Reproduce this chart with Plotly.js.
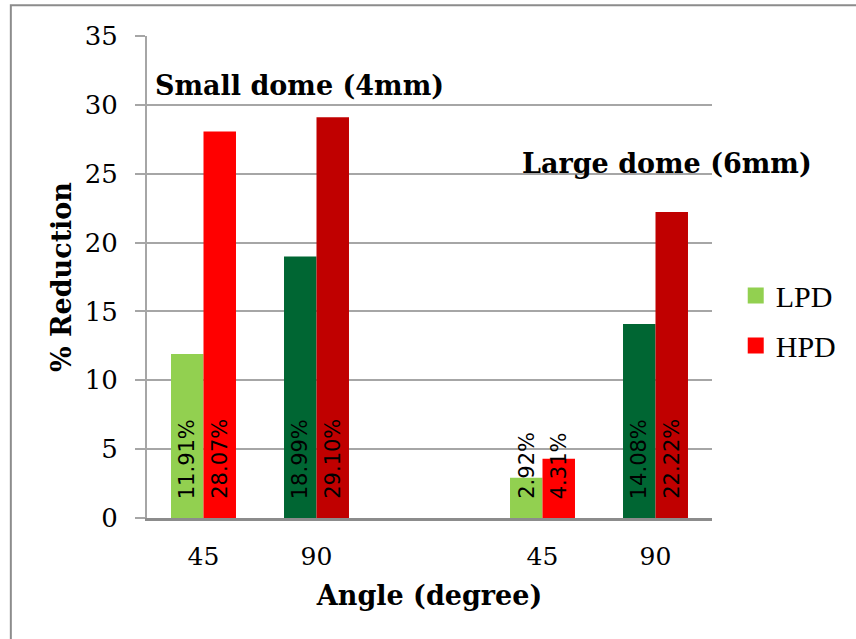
<!DOCTYPE html>
<html>
<head>
<meta charset="utf-8">
<script src="https://cdn.plot.ly/plotly-3.0.1.min.js"></script>
<style>html,body{margin:0;padding:0;background:#fff}</style>
</head>
<body>
<div id="chart" style="width:856px;height:639px"></div>
<script>
// Bar slots: small dome (4mm) at 45/90 degrees, then large dome (6mm)
const barKeys = ['S45', 'S90', 'L45', 'L90'];
const slotOrder = ['S45', 'S90', 'gap', 'L45', 'L90'];
const angleLabels = ['45', '90', '45', '90'];

// % reduction per pressure level
const lpdValues = [11.91, 18.99, 2.92, 14.08];
const hpdValues = [28.07, 29.10, 4.31, 22.22];

const lpdColors = ['#92D050', '#006633', '#92D050', '#006633'];
const hpdColors = ['#FF0000', '#C00000', '#FF0000', '#C00000'];

const serif = 'DejaVu Serif, serif';
const labelFont = {family: 'DejaVu Sans, sans-serif', size: 21, color: '#000'};

const traces = [
  {type: 'bar', name: 'LPD', x: barKeys, y: lpdValues,
   marker: {color: lpdColors}, showlegend: false, hoverinfo: 'y'},
  {type: 'bar', name: 'HPD', x: barKeys, y: hpdValues,
   marker: {color: hpdColors}, showlegend: false, hoverinfo: 'y'},
  // legend swatches
  {type: 'scatter', mode: 'markers', name: 'LPD', x: [null], y: [null],
   marker: {symbol: 'square', size: 16, color: lpdColors[0]}, legendgroup: 'a'},
  {type: 'scatter', mode: 'markers', name: 'HPD', x: [null], y: [null],
   marker: {symbol: 'square', size: 16, color: hpdColors[0]}, legendgroup: 'b'}
];

// value labels written vertically from the base of each bar
const valueNotes = [];
barKeys.forEach((k, i) => {
  [[lpdValues, -16.25], [hpdValues, 16.25]].forEach(([vals, dx]) => {
    valueNotes.push({
      xref: 'x', yref: 'y', x: k, y: 0, xshift: dx, yshift: 17,
      xanchor: 'center', yanchor: 'bottom', textangle: -90,
      text: vals[i].toFixed(2) + '%', showarrow: false, font: labelFont
    });
  });
});

const domeNotes = [
  {xref: 'paper', yref: 'paper', x: 0.010, y: 0.898, xanchor: 'left', yanchor: 'middle',
   text: '<b>Small dome (4mm)</b>', showarrow: false,
   font: {family: serif, size: 27, color: '#000'}},
  {xref: 'paper', yref: 'paper', x: 0.660, y: 0.736, xanchor: 'left', yanchor: 'middle',
   text: '<b>Large dome (6mm)</b>', showarrow: false,
   font: {family: serif, size: 27, color: '#000'}}
];

const layout = {
  width: 856, height: 639,
  margin: {l: 147, r: 144, t: 36, b: 121, autoexpand: false},
  paper_bgcolor: '#fff', plot_bgcolor: '#fff',
  barmode: 'group', bargap: 0.425, bargroupgap: 0,
  xaxis: {
    type: 'category', categoryorder: 'array', categoryarray: slotOrder,
    tickvals: barKeys, ticktext: angleLabels,
    showgrid: false, zeroline: false,
    showline: true, linecolor: '#8c8c8c', linewidth: 2.5,
    ticks: 'outside', ticklen: 0, ticklabelstandoff: 14,
    tickfont: {family: serif, size: 25, color: '#000'},
    title: {text: '<b>Angle (degree)</b>', standoff: 17,
            font: {family: serif, size: 27, color: '#000'}},
    fixedrange: true
  },
  yaxis: {
    range: [0, 35], dtick: 5, tick0: 0,
    showgrid: true, gridcolor: '#a6a6a6', gridwidth: 2,
    zeroline: false,
    showline: true, linecolor: '#a6a6a6', linewidth: 2,
    ticks: 'outside', ticklen: 10, tickcolor: '#a6a6a6', tickwidth: 2,
    ticklabelstandoff: 12,
    tickfont: {family: serif, size: 26, color: '#000'},
    title: {text: '<b>% Reduction</b>', standoff: 5,
            font: {family: serif, size: 27, color: '#000'}},
    fixedrange: true
  },
  legend: {
    x: 1.042, xanchor: 'left', y: 0.41, yanchor: 'middle',
    traceorder: 'grouped', tracegroupgap: 8,
    font: {family: 'Liberation Serif, serif', size: 30, color: '#000'},
    bgcolor: 'rgba(0,0,0,0)'
  },
  annotations: valueNotes.concat(domeNotes),
  shapes: [{
    type: 'rect', xref: 'paper', yref: 'paper', layer: 'below',
    x0: -0.241, x1: 1.6, y0: -0.6, y1: 1.064,
    line: {color: '#8c8c8c', width: 2}, fillcolor: 'rgba(0,0,0,0)'
  }]
};

Plotly.newPlot('chart', traces, layout, {displayModeBar: false, staticPlot: true});
</script>
</body>
</html>
